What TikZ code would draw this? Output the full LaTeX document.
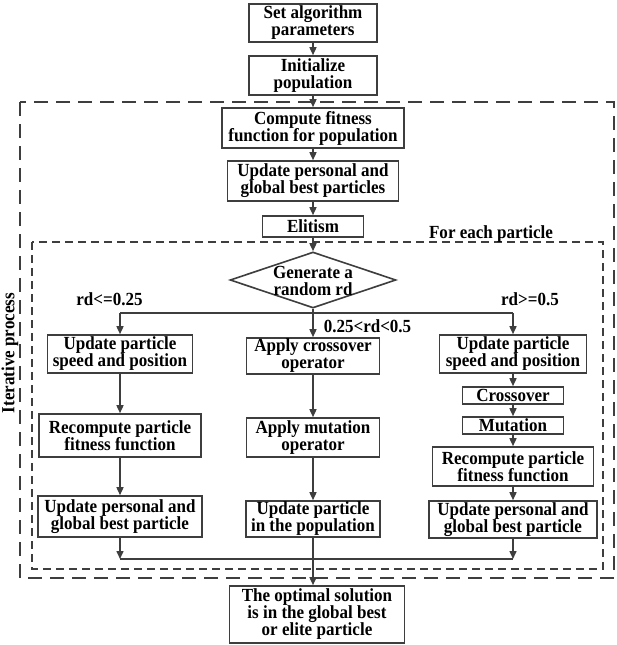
\documentclass[tikz,border=0pt]{standalone}
\usepackage{fontspec}
\setmainfont{Liberation Serif}[FakeStretch=0.92]
\usetikzlibrary{arrows.meta,shapes.geometric}
\definecolor{ln}{RGB}{62,62,62}
\tikzset{
  blk/.style 2 args={draw=ln,line width=1.6pt,align=center,inner sep=1pt,fill=white,
    minimum width=#1pt,minimum height=#2pt},
  dnt/.style={diamond,draw=ln,line width=1.6pt,inner sep=0pt,minimum width=166pt,minimum height=56pt},
  arr/.style={draw=ln,line width=1.5pt,-{Triangle[length=8pt,width=7pt]}},
  seg/.style={draw=ln,line width=1.5pt},
  outr/.style={draw=ln,line width=1.6pt,dash pattern=on 14pt off 8pt},
  innr/.style={draw=ln,line width=1.2pt,dash pattern=on 8pt off 5pt},
  lbl/.style={anchor=base,inner sep=0pt},
}

\begin{document}
\begin{tikzpicture}[x=1pt,y=-1pt,font=\bfseries\fontsize{18.5}{17}\selectfont]
  \useasboundingbox (0,0) rectangle (616,645);
  % dashed frames
  \draw[outr] (20,102) rectangle (614,578);
  \draw[innr] (32,242) rectangle (603,569);
  \node[rotate=90] (itp) at (10,353) {Iterative process};
  \node[lbl] (fep) at (491,238) {For each particle};
  % main column
  \node[blk={128}{38}] (set) at (313,23) {Set algorithm\\parameters};
  \node[blk={128}{39}] (init) at (313,75.5) {Initialize\\population};
  \node[blk={182}{40}] (fit) at (313,128) {Compute fitness\\function for population};
  \node[blk={171}{40}] (upd) at (313,181) {Update personal and\\global best particles};
  \node[blk={101}{21}] (elit) at (313,226.5) {Elitism};
  \node[dnt] (dec) at (313,280) {};
  \node[align=center,inner sep=0pt] (dect) at (313,281) {Generate a\\random rd};
  % branch labels
  \node[lbl] (lbA) at (109.5,305) {rd<=0.25};
  \node[lbl] (lbB) at (367.5,332) {0.25<rd<0.5};
  \node[lbl] (lbC) at (530,305) {rd>=0.5};
  % left branch
  \node[blk={145}{38}] (L1) at (120,354) {Update particle\\speed and position};
  \node[blk={162}{43}] (L2) at (120,435.5) {Recompute particle\\fitness function};
  \node[blk={164}{41}] (L3) at (120,516.5) {Update personal and\\global best particle};
  % middle branch
  \node[blk={133}{36}] (M1) at (313,356) {Apply crossover\\operator};
  \node[blk={133}{39}] (M2) at (313,437.5) {Apply mutation\\operator};
  \node[blk={134}{36}] (M3) at (313,519) {Update particle\\in the population};
  % right branch
  \node[blk={147}{38}] (R1) at (513,354) {Update particle\\speed and position};
  \node[blk={101}{17}] (R2) at (513,395.5) {Crossover};
  \node[blk={101}{17}] (R3) at (513,425.5) {Mutation};
  \node[blk={161}{39}] (R4) at (513,466.5) {Recompute particle\\fitness function};
  \node[blk={168}{37}] (R5) at (513,519.5) {Update personal and\\global best particle};
  % result
  \node[blk={175}{57}] (fin) at (317,614.5) {The optimal solution\\is in the global best\\or elite particle};
  % connectors
  \draw[arr] (set) -- (init);
  \draw[arr] (init) -- (fit);
  \draw[arr] (fit) -- (upd);
  \draw[arr] (upd) -- (elit);
  \draw[arr] (elit) -- (dec);
  \coordinate (bl) at (120,313);
  \coordinate (br) at (513,313);
  \draw[seg] (bl) -- (br);
  \draw[arr] (bl) -- (L1);
  \draw[arr] (dec.south) -- (M1);
  \draw[arr] (br) -- (R1);
  \draw[arr] (L1) -- (L2);
  \draw[arr] (L2) -- (L3);
  \draw[arr] (M1) -- (M2);
  \draw[arr] (M2) -- (M3);
  \draw[arr] (R1) -- (R2);
  \draw[arr] (R2) -- (R3);
  \draw[arr] (R3) -- (R4);
  \draw[arr] (R4) -- (R5);
  \coordinate (ml) at (120,559);
  \coordinate (mr) at (513,559);
  \draw[arr] (L3) -- (ml);
  \draw[arr] (R5) -- (mr);
  \draw[seg] (ml) -- (mr);
  \draw[arr] (M3) -- (M3 |- fin.north);
\end{tikzpicture}
\end{document}
